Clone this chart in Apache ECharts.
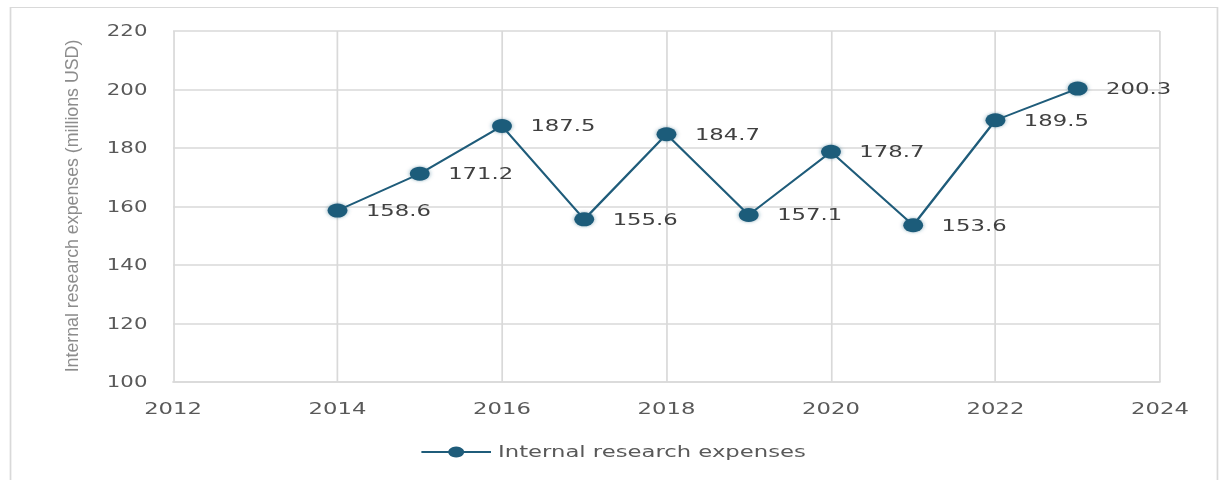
<!DOCTYPE html>
<html>
<head>
<meta charset="utf-8">
<script src="https://cdn.jsdelivr.net/npm/echarts@6/dist/echarts.min.js"></script>
<style>
  html, body { margin: 0; padding: 0; background: #ffffff; overflow: hidden; }
  /* the chart is laid out narrow and widened to the full page width */
  #chart {
    width: 863px;
    height: 480px;
    transform: scaleX(1.4206);
    transform-origin: 0 0;
  }
</style>
</head>
<body>
<div id="chart"></div>
<script>
// Internal research expenses by year (millions USD)
const years = [2014, 2015, 2016, 2017, 2018, 2019, 2020, 2021, 2022, 2023];
const expenses = [158.6, 171.2, 187.5, 155.6, 184.7, 157.1, 178.7, 153.6, 189.5, 200.3];
const seriesName = 'Internal research expenses';
const yAxisTitle = 'Internal research expenses (millions USD)';

const lineColor = '#1f5c7a';
const textColor = '#595959';
const gridColor = '#d9d9d9';

// Axis title: rotated, fitted to the plot height
const titleFont = '13px "Liberation Sans"';
const titleLength = 333;
const measureCtx = document.createElement('canvas').getContext('2d');
measureCtx.font = titleFont;
const titleScale = titleLength / measureCtx.measureText(yAxisTitle).width;

const chart = echarts.init(document.getElementById('chart'), null, {
  renderer: 'svg', width: 863, height: 480
});

chart.setOption({
  animation: false,
  backgroundColor: '#ffffff',
  graphic: [
    {
      type: 'rect',
      shape: { x: 7.4, y: 7.5, width: 849.6, height: 490 },
      style: { fill: 'none', stroke: '#d9d9d9', lineWidth: 1.2 },
      silent: true
    },
    {
      type: 'text',
      x: 50.5,
      y: 206,
      rotation: Math.PI / 2,
      scaleX: titleScale,
      scaleY: 1,
      style: {
        text: yAxisTitle,
        font: titleFont,
        fill: '#8c8c8c',
        align: 'center',
        verticalAlign: 'middle'
      },
      silent: true
    }
  ],
  grid: { left: 121.8, right: 46.5, top: 31, bottom: 98 },
  xAxis: {
    type: 'value',
    min: 2012, max: 2024, interval: 2,
    axisLine: { show: true, lineStyle: { color: gridColor, width: 1.5 } },
    axisTick: { show: false },
    splitLine: { show: true, lineStyle: { color: gridColor, width: 1.2 } },
    axisLabel: {
      margin: 19,
      color: textColor,
      fontFamily: 'DejaVu Sans',
      fontSize: 16,
      formatter: v => String(v)
    }
  },
  yAxis: {
    type: 'value',
    min: 100, max: 220, interval: 20,
    axisLine: { show: false },
    axisTick: { show: false },
    splitLine: { show: true, lineStyle: { color: gridColor, width: 1.5 } },
    axisLabel: {
      margin: 18,
      color: textColor,
      fontFamily: 'DejaVu Sans',
      fontSize: 15
    }
  },
  legend: {
    bottom: 15,
    left: 'center',
    itemWidth: 49,
    itemHeight: 14,
    itemGap: 6,
    textStyle: { color: textColor, fontFamily: 'DejaVu Sans', fontSize: 16 },
    data: [seriesName]
  },
  series: [{
    name: seriesName,
    type: 'line',
    data: years.map((y, i) => [y, expenses[i]]),
    symbol: 'circle',
    symbolSize: 14,
    lineStyle: { color: lineColor, width: 1.8 },
    itemStyle: { color: lineColor, shadowBlur: 3, shadowColor: 'rgba(31,92,122,0.5)' },
    label: {
      show: true,
      position: 'right',
      distance: 13,
      color: '#404040',
      fontFamily: 'DejaVu Sans',
      fontSize: 16,
      formatter: p => p.value[1].toFixed(1)
    }
  }]
});
</script>
</body>
</html>
